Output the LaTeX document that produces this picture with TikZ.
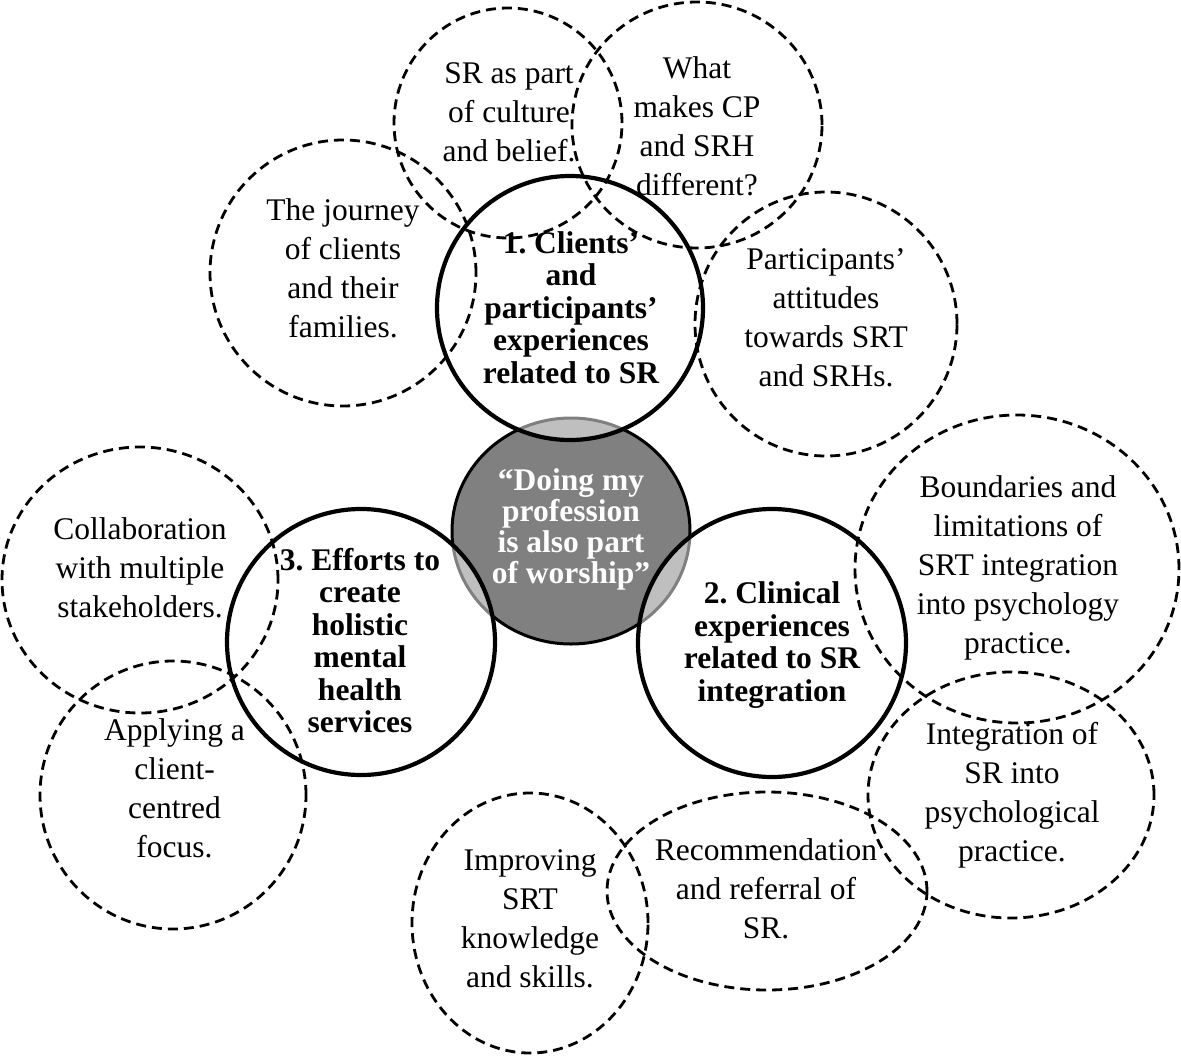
\documentclass[tikz,border=0pt]{standalone}
\usepackage{fontspec}
\setmainfont{Liberation Serif}
\usetikzlibrary{shapes.geometric}
\frenchspacing
\begin{document}
\begin{tikzpicture}[x=1pt,y=-1pt,
  solidc/.style={ellipse, draw=black, line width=4.2pt, fill=white, fill opacity=0.5, draw opacity=1, inner sep=0pt, outer sep=0pt},
  dashc/.style={ellipse, draw=black, line width=2.8pt, dash pattern=on 10pt off 6pt, inner sep=0pt, outer sep=0pt},
  corec/.style={ellipse, draw=black, line width=3pt, fill=black!50, inner sep=0pt, outer sep=0pt},
  reg/.style={align=center, font=\fontsize{31.5}{39}\selectfont, inner sep=0pt},
  bld/.style={align=center, font=\fontsize{31.5}{32.5}\selectfont\bfseries, inner sep=0pt},
  wbld/.style={align=center, font=\fontsize{31.5}{31}\selectfont\bfseries, text=white, inner sep=0pt}
]
\useasboundingbox (0,0) rectangle (1181,1057);
% core
\node[corec, minimum width=238pt, minimum height=226pt] (core) at (571,531) {};
% theme circles
\node[solidc, minimum width=266pt, minimum height=264pt] (c1) at (570,308) {};
\node[solidc, minimum width=268pt, minimum height=268pt] (c2) at (772,643) {};
\node[solidc, minimum width=268pt, minimum height=266pt] (c3) at (361,642) {};
% subtheme circles
\node[dashc, minimum width=228pt, minimum height=230pt] (dsr) at (508,123) {};
\node[dashc, minimum width=250pt, minimum height=246pt] (dcp) at (697,125) {};
\node[dashc, minimum width=266pt, minimum height=266pt] (djr) at (343,273) {};
\node[dashc, minimum width=262pt, minimum height=264pt] (dpa) at (826,324) {};
\node[dashc, minimum width=276pt, minimum height=266pt] (dco) at (140,580) {};
\node[dashc, minimum width=266pt, minimum height=268pt] (dap) at (173,795) {};
\node[dashc, minimum width=324pt, minimum height=308pt] (dbo) at (1017,569) {};
\node[dashc, minimum width=286pt, minimum height=246pt] (din) at (1011,795) {};
\node[dashc, minimum width=236pt, minimum height=260pt] (dim) at (530,923) {};
\node[dashc, minimum width=320pt, minimum height=198pt] (dre) at (767,891) {};
% texts
\node[wbld] (tcore) at (571,529) {“Doing my\\profession\\is also part\\of worship”};
\node[bld] (tc1) at (571,307.5) {1. Clients’\\and\\participants’\\experiences\\related to SR};
\node[bld] (tc2) at (772,645) {2. Clinical\\experiences\\related to SR\\integration};
\node[bld] (tc3) at (360,640.5) {3. Efforts to\\create\\holistic\\mental\\health\\services};
\node[reg] (tsr) at (509,112) {SR as part\\of culture\\and belief.};
\node[reg] (tcp) at (697,126) {What\\makes CP\\and SRH\\different?};
\node[reg] (tjr) at (343,268) {The journey\\of clients\\and their\\families.};
\node[reg] (tpa) at (826,318) {Participants’\\attitudes\\towards SRT\\and SRHs.};
\node[reg] (tco) at (140,568) {Collaboration\\with multiple\\stakeholders.};
\node[reg] (tap) at (174.5,788.5) {Applying a\\client-\\centred\\focus.};
\node[reg] (tbo) at (1018,568) {Boundaries and\\limitations of\\SRT integration\\into psychology\\practice.};
\node[reg] (tin) at (1012,795) {Integration of\\SR into\\psychological\\practice.};
\node[reg] (tim) at (530,918.5) {Improving\\SRT\\knowledge\\and skills.};
\node[reg] (tre) at (766,888.5) {Recommendation\\and referral of\\SR.};
\end{tikzpicture}
\end{document}
